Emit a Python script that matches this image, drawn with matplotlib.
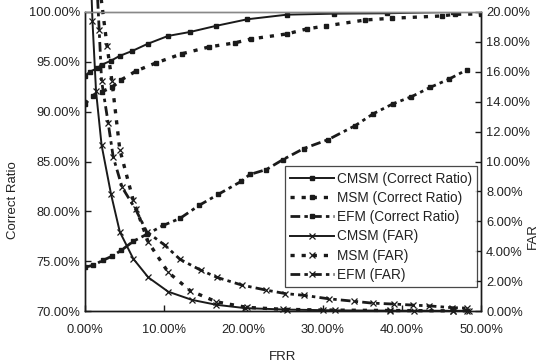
import matplotlib
matplotlib.use("Agg")
import matplotlib.pyplot as plt
from matplotlib.ticker import FuncFormatter, MultipleLocator

plt.rcParams['font.family'] = ['Liberation Sans', 'DejaVu Sans']
plt.rcParams['lines.scale_dashes'] = False

# ---- data (FRR in %, values in %) ----
cmsm_cr_x = [0.0, 0.6, 1.5, 2.1, 3.25, 4.4, 6.0, 7.9, 10.5, 13.3, 16.5, 20.5, 25.5, 31.4, 38.1, 46.5, 50.0]
cmsm_cr_y = [93.6, 94.0, 94.35, 94.7, 95.1, 95.6, 96.1, 96.8, 97.6, 98.0, 98.6, 99.27, 99.73, 99.83, 99.87, 100.0, 100.0]

msm_cr_x = [0.0, 1.0, 2.1, 3.4, 4.6, 6.5, 9.0, 12.2, 15.7, 18.9, 21.0, 25.5, 28.0, 30.4, 35.4, 38.7, 45.0, 46.7, 50.0]
msm_cr_y = [90.8, 91.6, 92.0, 92.45, 93.2, 94.1, 94.9, 95.8, 96.5, 96.9, 97.3, 97.8, 98.3, 98.6, 99.2, 99.37, 99.6, 99.77, 99.8]

efm_cr_x = [0.0, 1.05, 2.3, 3.4, 4.6, 6.1, 7.8, 9.9, 12.0, 14.4, 16.8, 19.7, 20.8, 22.9, 25.0, 27.6, 30.7, 34.1, 36.4, 38.9, 41.2, 43.6, 45.9, 48.2]
efm_cr_y = [74.4, 74.6, 75.1, 75.5, 76.1, 77.0, 77.7, 78.6, 79.3, 80.6, 81.7, 83.0, 83.7, 84.2, 85.2, 86.3, 87.2, 88.6, 89.8, 90.8, 91.5, 92.45, 93.25, 94.2]

cmsm_far_x = [0.5, 0.95, 1.4, 2.1, 3.3, 4.4, 6.1, 8.0, 10.5, 13.5, 16.6, 20.2, 25.5, 31.5, 38.5, 46.5, 48.5]
cmsm_far_y = [26.0, 19.4, 14.7, 11.1, 7.8, 5.3, 3.5, 2.25, 1.3, 0.75, 0.42, 0.2, 0.1, 0.05, 0.03, 0.02, 0.02]

msm_far_x = [1.9, 2.8, 3.4, 4.4, 6.1, 8.0, 10.5, 13.3, 16.6, 20.4, 25.0, 30.0, 38.5, 41.5, 46.5, 48.2]
msm_far_y = [21.5, 17.7, 15.4, 10.8, 7.4, 4.6, 2.6, 1.36, 0.62, 0.25, 0.12, 0.07, 0.04, 0.03, 0.02, 0.02]

efm_far_x = [1.3, 1.8, 2.1, 2.94, 3.57, 4.7, 6.4, 7.8, 10.1, 12.0, 14.6, 16.7, 19.8, 22.9, 25.3, 27.7, 30.8, 33.9, 36.3, 39.0, 41.4, 43.4, 46.3, 48.2]
efm_far_y = [24.0, 18.8, 15.4, 12.55, 10.3, 8.27, 6.8, 5.3, 4.4, 3.46, 2.74, 2.25, 1.74, 1.4, 1.17, 1.05, 0.82, 0.66, 0.53, 0.47, 0.4, 0.35, 0.23, 0.2]

labels = ["CMSM (Correct Ratio)", "MSM (Correct Ratio)", "EFM (Correct Ratio)",
          "CMSM (FAR)", "MSM (FAR)", "EFM (FAR)"]

K = '#1a1a1a'
TXT = '#222222'

fig = plt.figure(figsize=(5.48, 3.63), dpi=100)
ax = fig.add_axes([0.155, 0.143, 0.723, 0.824])
ax2 = ax.twinx()

dot = (0, (3.0, 5.0))
dashdot = (0, (7.0, 3.0, 2.5, 3.0))

h = []
h += ax.plot(cmsm_cr_x, cmsm_cr_y, color=K, lw=1.4, marker='s', ms=2.6, label=labels[0])
h += ax.plot(msm_cr_x, msm_cr_y, color=K, lw=2.4, linestyle=dot, marker='s', ms=3, label=labels[1])
h += ax.plot(efm_cr_x, efm_cr_y, color=K, lw=2.0, linestyle=dashdot, marker='s', ms=3, label=labels[2])
h += ax2.plot(cmsm_far_x, cmsm_far_y, color=K, lw=1.4, marker='x', ms=5, mew=0.9, label=labels[3], clip_on=False)
h += ax2.plot(msm_far_x, msm_far_y, color=K, lw=2.4, linestyle=dot, marker='x', ms=5, mew=0.9, label=labels[4], clip_on=False)
h += ax2.plot(efm_far_x, efm_far_y, color=K, lw=2.0, linestyle=dashdot, marker='x', ms=5, mew=0.9, label=labels[5], clip_on=False)

ax.set_xlim(0, 50)
ax.set_ylim(70, 100)
ax2.set_ylim(0, 20)
ax.xaxis.set_major_locator(MultipleLocator(10))
ax.yaxis.set_major_locator(MultipleLocator(5))
ax2.yaxis.set_major_locator(MultipleLocator(2))
pct = FuncFormatter(lambda v, p: f"{v:.2f}%")
ax.xaxis.set_major_formatter(pct)
ax.yaxis.set_major_formatter(pct)
ax2.yaxis.set_major_formatter(pct)

for a in (ax, ax2):
    a.tick_params(direction='in', length=4, width=1, colors=K, labelcolor=TXT, labelsize=9.3)
    for s in a.spines.values():
        s.set_color(K)
        s.set_linewidth(1.0)
ax.spines['top'].set_color('#888888')
ax2.spines['top'].set_color('#888888')
ax.tick_params(axis='x', pad=9)

ax.set_xlabel("FRR", fontsize=9.5, color=TXT)
ax.xaxis.set_label_coords(0.5, -0.135)
ax.set_ylabel("Correct Ratio", fontsize=9.5, color=TXT)
ax.yaxis.set_label_coords(-0.167, 0.37)
ax2.set_ylabel("FAR", fontsize=9.5, color=TXT)
ax2.yaxis.set_label_coords(1.115, 0.25)

leg = ax2.legend(h, labels, loc='lower right', bbox_to_anchor=(0.99, 0.08),
                 frameon=True, fancybox=False, edgecolor=K, fontsize=9.8,
                 handlelength=3.2, handletextpad=0.2, borderpad=0.4,
                 labelspacing=0.38, borderaxespad=0)
leg.get_frame().set_linewidth(0.9)
for t in leg.get_texts():
    t.set_color(TXT)

fig.savefig("out.png", dpi=100)
